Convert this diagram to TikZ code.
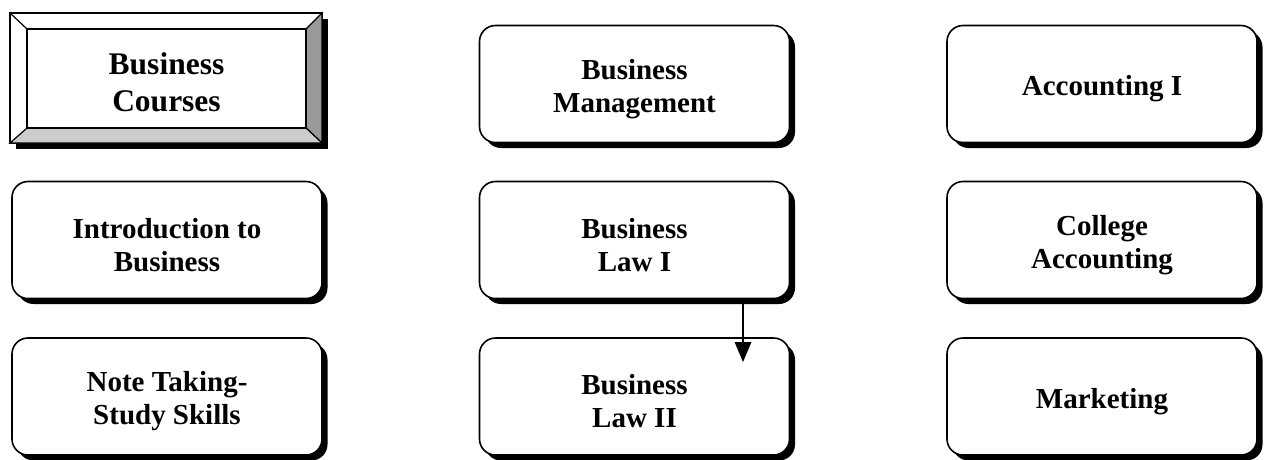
\documentclass[tikz,border=0pt]{standalone}
\usepackage{fontspec}
\setmainfont{Liberation Serif}
\usetikzlibrary{shadows,arrows.meta}
\tikzset{
  rbox/.style={draw=black, line width=1.6pt, fill=white, rounded corners=16pt,
    minimum width=310pt, minimum height=117pt,
    drop shadow={shadow xshift=5.5pt, shadow yshift=-5.5pt, fill=black, opacity=1}},
  rtext/.style={align=center, font=\fontsize{29}{33}\selectfont\bfseries, yshift=-5pt},
  bevface/.style={draw=black, line width=1.2pt},
  conn/.style={line width=2.6pt, -{Triangle[length=20pt,width=16pt]}}
}
\begin{document}
\begin{tikzpicture}[x=1pt,y=-1pt]
\useasboundingbox (0,0) rectangle (1264,459);
% bevelled title box
\fill[black] (16,19) rectangle (328,149);
\draw[bevface, fill=white] (10,13) rectangle (322,143);
\draw[bevface, fill=black!40] (322,13) -- (306,29) -- (306,128) -- (322,143) -- cycle;
\draw[bevface, fill=black!20] (10,143) -- (27,128) -- (306,128) -- (322,143) -- cycle;
\draw[bevface] (10,13) -- (27,29);
\node[draw=black, line width=1.2pt, fill=white, minimum width=279pt, minimum height=99pt] (bc) at (166.5,78.5) {};
\node[align=center, font=\fontsize{31.5}{37}\selectfont\bfseries, yshift=-4pt] at (bc.center) {Business\\Courses};
% rounded boxes
\node[rbox] (bm)    at (634.5,84)  {};
\node[rbox] (acc)   at (1102,84)   {};
\node[rbox] (intro) at (167,240)   {};
\node[rbox] (law1)  at (634.5,240) {};
\node[rbox] (coll)  at (1102,240)  {};
\node[rbox] (note)  at (167,396.5) {};
\node[rbox] (law2)  at (634.5,396.5) {};
\node[rbox] (mkt)   at (1102,396.5) {};
\node[rtext] at (bm.center)    {Business\\Management};
\node[rtext] at (acc.center)   {Accounting I};
\node[rtext] at (intro.center) {Introduction to\\Business};
\node[rtext] at (law1.center)  {Business\\Law I};
\node[rtext] at (coll.center)  {College\\Accounting};
\node[rtext] at (note.center)  {Note Taking-\\Study Skills};
\node[rtext] at (law2.center)  {Business\\Law II};
\node[rtext] at (mkt.center)   {Marketing};
% connector
\coordinate (a1) at ([xshift=108.5pt, yshift=-5pt]law1.south);
\coordinate (a2) at ([xshift=108.5pt, yshift=-25pt]law2.north);
\draw[conn] (a1) -- (a2);
\end{tikzpicture}
\end{document}
